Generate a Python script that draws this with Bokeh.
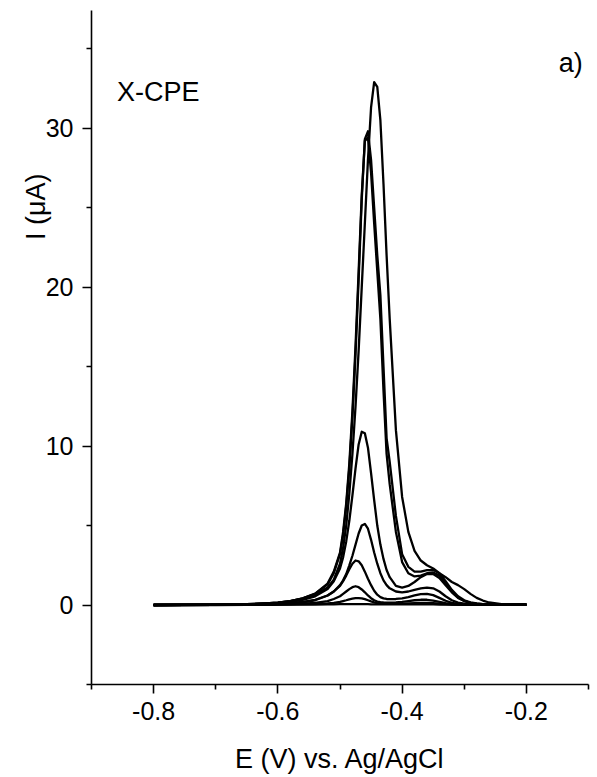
from bokeh.plotting import figure
from bokeh.models import FixedTicker, Label, Range1d, Title
from bokeh.embed import file_html
from bokeh.resources import INLINE

# Potential grid (V vs. Ag/AgCl)
E = [-0.80, -0.70, -0.65, -0.62, -0.60, -0.58, -0.56, -0.54, -0.52, -0.51,
     -0.50, -0.495, -0.49, -0.485, -0.48, -0.475, -0.47, -0.465, -0.46, -0.455,
     -0.45, -0.445, -0.44, -0.435, -0.43, -0.425, -0.42, -0.41, -0.40, -0.39,
     -0.38, -0.37, -0.36, -0.35, -0.34, -0.33, -0.32, -0.31, -0.30, -0.29,
     -0.28, -0.27, -0.26, -0.24, -0.22, -0.20]

# Currents (uA) for each voltammogram
curve_33 = [0.0, 0.02, 0.05, 0.10, 0.15, 0.25, 0.40, 0.65, 1.1, 1.6,
            2.6, 3.6, 5.0, 7.0, 9.5, 12.5, 16.0, 20.0, 24.0, 28.0,
            31.3, 32.9, 32.6, 30.5, 26.5, 22.0, 18.0, 11.0, 6.8, 4.6,
            3.4, 2.8, 2.5, 2.3, 2.0, 1.75, 1.45, 1.25, 1.0, 0.7,
            0.45, 0.28, 0.16, 0.06, 0.03, 0.02]
curve_30a = [0.0, 0.02, 0.05, 0.10, 0.15, 0.25, 0.42, 0.70, 1.3, 2.0,
             3.2, 4.4, 6.2, 8.6, 11.8, 15.8, 20.5, 25.5, 29.3, 29.8,
             28.0, 25.0, 22.0, 19.5, 15.0, 10.5, 9.0, 5.6, 3.2, 2.4,
             2.1, 2.1, 2.2, 2.2, 2.0, 1.5, 0.95, 0.55, 0.30, 0.17,
             0.10, 0.06, 0.04, 0.02, 0.02, 0.02]
curve_30b = [0.0, 0.02, 0.05, 0.10, 0.15, 0.25, 0.42, 0.72, 1.35, 2.1,
             3.3, 4.6, 6.4, 8.9, 12.2, 16.3, 21.0, 25.8, 29.2, 29.4,
             27.2, 24.0, 21.0, 18.0, 13.5, 9.5, 7.6, 4.6, 2.7, 2.0,
             1.8, 1.85, 2.0, 2.05, 1.85, 1.35, 0.85, 0.48, 0.26, 0.14,
             0.08, 0.05, 0.03, 0.02, 0.02, 0.02]
curve_11 = [0.0, 0.02, 0.04, 0.08, 0.12, 0.20, 0.32, 0.55, 1.0, 1.5,
            2.3, 3.0, 4.0, 5.3, 6.9, 8.6, 10.1, 10.9, 10.8, 9.9,
            8.3, 6.6, 5.0, 3.8, 2.9, 2.2, 1.75, 1.2, 1.1, 1.2,
            1.45, 1.75, 1.95, 1.95, 1.7, 1.25, 0.8, 0.45, 0.25, 0.13,
            0.07, 0.04, 0.02, 0.02, 0.02, 0.02]
curve_5 = [0.0, 0.01, 0.03, 0.05, 0.08, 0.13, 0.20, 0.33, 0.6, 0.85,
           1.25, 1.55, 1.95, 2.5, 3.1, 3.8, 4.5, 5.0, 5.1, 4.8,
           4.1, 3.3, 2.6, 2.0, 1.55, 1.25, 1.05, 0.85, 0.8, 0.85,
           0.95, 1.05, 1.1, 1.05, 0.85, 0.55, 0.30, 0.15, 0.08, 0.04,
           0.02, 0.02, 0.02, 0.02, 0.02, 0.02]
curve_3 = [0.0, 0.01, 0.02, 0.04, 0.06, 0.10, 0.17, 0.30, 0.6, 0.85,
           1.2, 1.5, 1.85, 2.25, 2.6, 2.8, 2.75, 2.5, 2.1, 1.65,
           1.25, 0.9, 0.65, 0.5, 0.42, 0.38, 0.37, 0.38, 0.42, 0.5,
           0.6, 0.68, 0.7, 0.62, 0.45, 0.27, 0.14, 0.07, 0.04, 0.02,
           0.02, 0.02, 0.02, 0.02, 0.02, 0.02]
curve_1 = [0.0, 0.01, 0.02, 0.03, 0.04, 0.06, 0.09, 0.14, 0.25, 0.38,
           0.55, 0.70, 0.85, 1.0, 1.12, 1.18, 1.12, 0.98, 0.80, 0.60,
           0.43, 0.30, 0.22, 0.18, 0.16, 0.15, 0.15, 0.17, 0.20, 0.25,
           0.30, 0.33, 0.33, 0.28, 0.20, 0.12, 0.06, 0.03, 0.02, 0.02,
           0.02, 0.02, 0.02, 0.02, 0.02, 0.02]
curve_05 = [0.0, 0.01, 0.01, 0.02, 0.03, 0.04, 0.05, 0.07, 0.10, 0.14,
            0.20, 0.25, 0.30, 0.36, 0.40, 0.43, 0.44, 0.42, 0.37, 0.30,
            0.23, 0.17, 0.12, 0.10, 0.08, 0.07, 0.07, 0.07, 0.08, 0.10,
            0.12, 0.13, 0.13, 0.11, 0.08, 0.05, 0.03, 0.02, 0.02, 0.02,
            0.02, 0.02, 0.02, 0.02, 0.02, 0.02]
curve_blank = [0.0, 0.0, 0.01, 0.01, 0.02, 0.02, 0.03, 0.03, 0.04, 0.04,
               0.05, 0.05, 0.05, 0.05, 0.05, 0.05, 0.05, 0.05, 0.05, 0.05,
               0.04, 0.04, 0.04, 0.04, 0.04, 0.04, 0.04, 0.04, 0.04, 0.04,
               0.04, 0.04, 0.04, 0.04, 0.03, 0.03, 0.03, 0.03, 0.02, 0.02,
               0.02, 0.02, 0.02, 0.02, 0.02, 0.02]

curves = [curve_blank, curve_05, curve_1, curve_3, curve_5, curve_11,
          curve_30b, curve_30a, curve_33]

x_major = [-0.8, -0.6, -0.4, -0.2]
x_major_labels = ["-0.8", "-0.6", "-0.4", "-0.2"]
x_minor = [-0.9, -0.7, -0.5, -0.3, -0.1]
y_major = [0, 10, 20, 30]
y_minor = [-5, 5, 15, 25, 35]

FONT = "Liberation Sans"

p = figure(width=597, height=777, output_backend="svg", toolbar_location=None,
           x_range=Range1d(-0.9, -0.1), y_range=Range1d(-5, 37.4),
           min_border_left=91, min_border_right=9, min_border_top=10,
           min_border_bottom=93)
p.outline_line_color = None
p.xgrid.visible = False
p.ygrid.visible = False
p.background_fill_color = "white"
p.border_fill_color = "white"

for c in curves:
    p.line(E, c, line_color="black", line_width=2.3, line_join="round")

for ax in (p.xaxis[0], p.yaxis[0]):
    ax.axis_line_color = "black"
    ax.axis_line_width = 1.6
    ax.major_tick_line_color = "black"
    ax.minor_tick_line_color = "black"
    ax.major_tick_line_width = 1.6
    ax.minor_tick_line_width = 1.6
    ax.major_tick_out = 9
    ax.major_tick_in = 0
    ax.minor_tick_out = 5
    ax.minor_tick_in = 0
    ax.major_label_text_font = FONT
    ax.major_label_text_font_size = "25px"
    ax.major_label_text_color = "black"
    ax.axis_label_text_font = FONT
    ax.axis_label_text_font_size = "27px"
    ax.axis_label_text_font_style = "normal"
    ax.axis_label_text_color = "black"

p.xaxis.ticker = FixedTicker(ticks=x_major, minor_ticks=x_minor)
p.yaxis.ticker = FixedTicker(ticks=y_major, minor_ticks=y_minor)
p.xaxis.major_label_overrides = {t: s for t, s in zip(x_major, x_major_labels)}
p.xaxis.major_label_standoff = 8
p.yaxis.major_label_standoff = 9
p.xaxis.axis_label = "E (V) vs. Ag/AgCl"
p.xaxis.axis_label_standoff = 21

# y title as a side title, shifted up toward the top of the axis
ytitle = Title(text="I (\u03bcA)", align="right", offset=163, standoff=-16,
               text_font=FONT, text_font_size="27px",
               text_font_style="normal", text_color="black")
p.add_layout(ytitle, "left")

p.add_layout(Label(x=-0.859, y=32.25, text="X-CPE", text_font=FONT,
                   text_font_size="27px", text_color="black",
                   text_baseline="alphabetic"))
p.add_layout(Label(x=-0.148, y=34.1, text="a)", text_font=FONT,
                   text_font_size="27px", text_color="black",
                   text_baseline="alphabetic"))

open("out.html", "w").write(file_html(p, INLINE))
